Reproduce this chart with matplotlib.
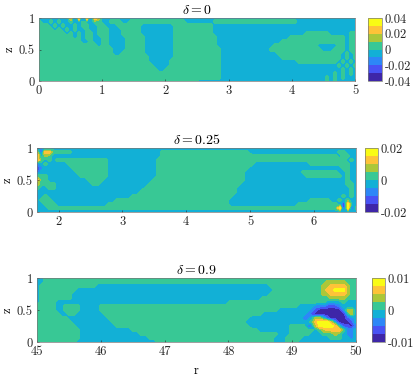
import numpy as np
import matplotlib
matplotlib.use('Agg')
import matplotlib.pyplot as plt

plt.rcParams['font.family'] = ['cmr10', 'DejaVu Sans']
plt.rcParams['mathtext.fontset'] = 'cm'
plt.rcParams['axes.unicode_minus'] = False
plt.rcParams['axes.formatter.use_mathtext'] = True

# colour class per grid point, top row is z=1. 0 = lowest band, 7 = highest
FILL = '3333333333 '
GREEN = '4444444444 '

grid_d0 = [
    '3333333361 7071753333 ' + FILL * 6,
    '4334343343 3433443344 4334444444 4444444333 3333444444 4444444444 4444433333 3333333333',
    '4443434334 3443344333 4444443333 3333444444 4444333333 ' + FILL * 3,
    '4444343434 3343344433 3444443333 3333444444 4444333333 ' + FILL * 3,
    '4444444343 4344344433 3444443333 3333444444 4444333333 3333333333 3333333444 4443333344',
    '4444444443 4344334433 3344444333 3333444444 4444433333 3333333333 3334444444 4444444344',
    '4444444444 4334334433 3344444333 3333444444 4444433333 3333333333 3444444444 4444444344',
    '4444444444 4444434433 3344444333 3333444444 4444433333 3333333334 4444444444 3333344344',
    '4444444444 4444444443 3344444333 3333444444 4444443333 3333333344 4444444444 4333444344',
    '4444444444 4444444443 3444444333 3333444444 4444443333 3333333333 4444444444 4444443434',
    '4444444444 4444444444 4444444433 3333444444 4444443333 3333333333 3444444444 4444443434',
    '4444444444 4444444444 4444444433 3334444444 4444443333 3333333333 3333344444 4444434343',
    '4444444444 4444444444 4444444443 3334444444 4444443333 3333333333 3333333333 3333343434',
    '4444444444 4444444444 4444444444 3344444444 4444443333 3333333333 3333333333 3333334343',
    '4444444444 4444444444 4444444444 4444444444 4444443333 3333333333 3333333333 3333434343',
    '4444444444 4444444444 4444444444 4444444444 4444443333 3333333333 3333333333 3343434333',
    '4444444444 4444444444 4444444444 4444444444 3333333333 3333333333 3333333333 3343433333',
]

grid_d025 = [
    '3233333333 ' + FILL * 7,
    '5166444443 3333333333 3333333333 3444444444 4444444444 4443333333 3333333333 3333344333',
    '7354333333 3333333333 3333333333 3444444444 4444444444 4444444444 4444444444 4444434433',
    '7434344444 4444444433 3333333333 4444444444 4444444444 4444444444 4444444444 4444444343',
    '2343333344 4444444433 3333333333 4444444444 4444444444 4444333333 3333333344 4444444433',
    '0233333334 4444444433 3333333333 4444444444 4444444444 4443333333 3333333333 3333334433',
    '1333333333 4444444433 3333333333 4444444444 4444444444 4433333333 3333334444 4444433433',
    '4443333333 3444444433 3333333333 4444444444 4444444444 4433333333 3333333444 4444443433',
    '6443333333 3334444333 3333333334 4444444444 4444444444 4433333333 3333333333 3333333433',
    '5444433333 3333443333 3333333344 4444444444 4444444444 4333333333 3333333333 3333333443',
    '4334433333 3333333333 3333333444 4444444444 4444444444 3333333333 3333333333 3333333343',
    '3333333333 3333333333 3333334444 4444444444 4444444444 3333333333 3333333333 3333333343',
    '2343333333 3333333333 3333444444 4444444444 4444444443 3333333333 3333333333 3333334343',
    '3444333333 3333333333 4444444444 4444444444 4444444433 3333333333 3333333344 4443343433',
    '3344433333 3333333344 4444444444 4444444444 4444444433 3333333333 3333344444 4444430733',
    '3334444444 ' + GREEN * 6 + '4444470714',
    '3333333333 ' + FILL * 7,
]
grid_d025.insert(1, grid_d025[0])  # placeholder removed below
grid_d025.pop(1)
grid_d025.append('3333333333 ' + FILL * 7)
grid_d025.pop(0)
grid_d025.insert(0, '3233333333 ' + FILL * 7)
grid_d025 = grid_d025[:17]

grid_d09 = [
    '3344444444 ' + GREEN * 7,
    '3344444444 ' + GREEN * 6 + '4455555444',
    '3444444444 4444433333 3333333333 3333333333 3333333333 3333333344 4444444444 4556666544',
    '3444444444 3333333333 3333333333 3333333333 3333333333 3333333334 4444444444 4566777544',
    '3444444443 3333333333 3333333333 3333333333 3333333333 3333333344 4444444444 4556666544',
    '3444444443 3333333333 3333333333 3333333333 3333333333 3333334444 4444444444 4445555444',
    '3444433333 3333333333 3333333333 3333333333 3333333344 4444444444 4444444444 4433334333',
    '4444433444 4333334444 4444444444 4444444444 4444444444 4444444444 4444433332 2211123333',
    '4444433444 4333334444 4444444444 4444444444 4444444444 4444444444 3333333321 0000002553',
    '4444443344 3333333444 4444444444 4444444444 4444444444 4444443333 3333333210 0000000353',
    '4444444433 3333333344 4444444444 4444444444 4444444444 4443333333 3333332235 5310000123',
    '4444444443 3333333334 4444444444 4444444444 4444444444 4433333333 3333333346 7775200013',
    '4444444444 3333333333 4444444444 4444444444 4444444444 4443333333 3334444225 7777631102',
    '4444444444 4333333333 3333444444 4444444444 4444444444 4444433333 3334444443 4566664223',
    '4444444444 4333333333 3333334444 4444444444 4444444444 4444444444 3334444433 3444543223',
    '4444444444 4333333333 3333333344 4444444444 4444444444 4444444443 3344443333 3334443323',
    '4444444444 3333333333 3333333333 4444444444 4444444444 4444444443 3344433333 3333333333',
]

titles = [r'$\delta = 0$', r'$\delta = 0.25$', r'$\delta = 0.9$']
r_ranges = [(0, 5), (1.66, 6.66), (45, 50)]
r_ticks = [[0, 1, 2, 3, 4, 5], [2, 3, 4, 5, 6], [45, 46, 47, 48, 49, 50]]
limits = [0.04, 0.02, 0.01]
cbar_ticks = [[-0.04, -0.02, 0, 0.02, 0.04], [-0.02, 0, 0.02], [-0.01, 0, 0.01]]
cbar_labels = [['-0.04', '-0.02', '0', '0.02', '0.04'], ['-0.02', '0', '0.02'], ['-0.01', '0', '0.01']]
z_ticks = [0, 0.5, 1]
z_labels = ['0', '0.5', '1']

parula = ['#3E26A8', '#4852F4', '#2D87F7', '#12B0D6', '#38C895', '#ABC739', '#FEC338', '#F9FB15']

W, H = 415.0, 378.0
# pixel boxes: left, top, right, bottom
ax_boxes = [(39, 18, 355, 81), (37, 148, 356, 212), (37, 278, 356, 342)]
cb_boxes = [(368, 18, 382, 81), (365, 148, 378, 212), (372, 278, 385, 342)]


def box(b):
    return [b[0] / W, 1 - b[3] / H, (b[2] - b[0]) / W, (b[3] - b[1]) / H]


def to_field(rows, limit):
    step = limit / 4
    table = [[int(c) for c in row.replace(' ', '')] for row in rows]
    return (np.array(table) - 3.5) * step


fig = plt.figure(figsize=(4.15, 3.78), dpi=100)
grids = [grid_d0, grid_d025, grid_d09]
for i in range(3):
    ax = fig.add_axes(box(ax_boxes[i]))
    field = to_field(grids[i], limits[i])
    r = np.linspace(r_ranges[i][0], r_ranges[i][1], field.shape[1])
    z = np.linspace(1, 0, field.shape[0])
    levels = np.linspace(-limits[i], limits[i], 9)
    cs = ax.contourf(r, z, field, levels=levels, colors=parula)
    ax.set_xlim(r_ranges[i])
    ax.set_ylim(0, 1)
    ax.set_xticks(r_ticks[i])
    ax.set_xticklabels([str(t) for t in r_ticks[i]])
    ax.set_yticks(z_ticks)
    ax.set_yticklabels(z_labels)
    ax.tick_params(direction='in', length=1.5, width=0.4, labelsize=9, pad=3, colors='#262626')
    ax.set_title(titles[i], fontsize=10, pad=3)
    ax.set_ylabel('z', fontsize=9, labelpad=2)
    for s in ax.spines.values():
        s.set_linewidth(0.5)
        s.set_color('#777777')

    cax = fig.add_axes(box(cb_boxes[i]))
    cb = fig.colorbar(cs, cax=cax)
    cb.set_ticks(cbar_ticks[i])
    cb.set_ticklabels(cbar_labels[i])
    cb.ax.tick_params(length=0, labelsize=9, pad=2, colors='#262626')
    cb.outline.set_linewidth(0.5)
    cb.outline.set_edgecolor('#777777')
    if i == 2:
        ax.set_xlabel('r', fontsize=9, labelpad=5)

fig.savefig('out.png', dpi=100)
